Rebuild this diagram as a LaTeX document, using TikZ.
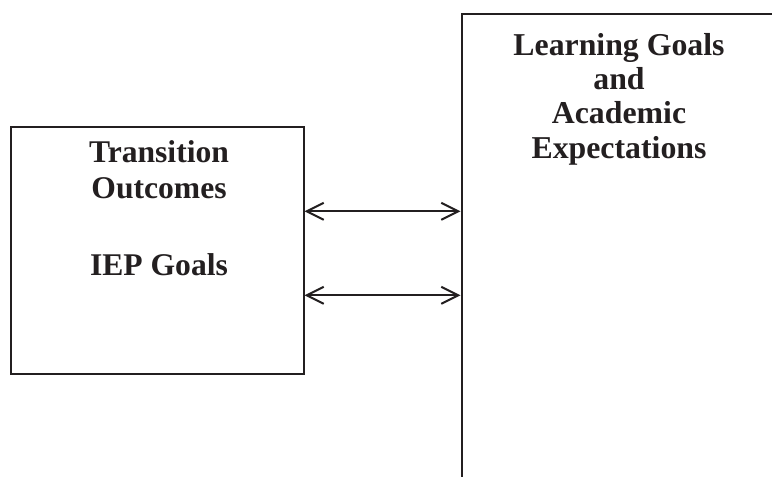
\documentclass[tikz,border=0pt]{standalone}
\usepackage{fontspec}
\setmainfont{Liberation Serif}
\usetikzlibrary{arrows.meta}
\definecolor{ink}{HTML}{231F20}
\tikzset{
  boxframe/.style={draw=ink, line width=2pt, rectangle, inner sep=0pt},
  lbl/.style={text=ink, align=center, inner sep=0pt, anchor=north},
  link/.style={draw=ink, line width=2pt, {Straight Barb[length=17pt,width=17pt]}-{Straight Barb[length=17pt,width=17pt]}}
}
\begin{document}
\begin{tikzpicture}[x=1pt, y=-1pt]
\useasboundingbox (0,0) rectangle (772,477);
\clip (0,0) rectangle (772,477);
\fill[white] (0,0) rectangle (772,477);
% left box
\node[boxframe, minimum width=293pt, minimum height=246.2pt] (lbox) at (157,250.4) {};
% right box (extends beyond the picture)
\node[boxframe, minimum width=330pt, minimum height=500pt, anchor=north west] (rbox) at (460.5,12.8) {};
% texts
\node[lbl, font=\bfseries\fontsize{31.6}{36.3}\selectfont] (ltext) at (159,140) {Transition\\Outcomes\\[41pt]IEP Goals};
\node[lbl, font=\bfseries\fontsize{31.8}{34.3}\selectfont] (rtext) at (619,33) {Learning Goals\\and\\Academic\\Expectations};
% arrows
\coordinate (y1) at (0,211.3);
\coordinate (y2) at (0,295.3);
\draw[link] (lbox.east |- y1) -- (rbox.west |- y1);
\draw[link] (lbox.east |- y2) -- (rbox.west |- y2);
\end{tikzpicture}
\end{document}
